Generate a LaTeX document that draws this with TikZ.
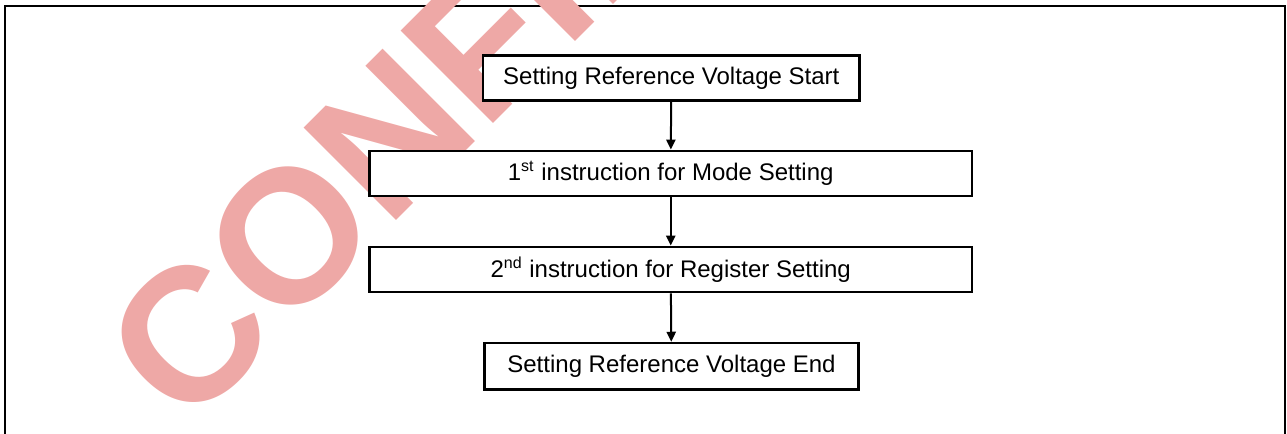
\documentclass[tikz,border=0pt]{standalone}
\usepackage{fontspec}
\setmainfont{Liberation Sans}
\usepackage{tikz}
\usetikzlibrary{arrows.meta}
\definecolor{stamp}{RGB}{238,168,166}

\begin{document}
\begin{tikzpicture}[x=0.5pt,y=-0.5pt,
    box/.style={draw,line width=1.35pt,fill=white,inner sep=0pt,minimum height=22.6pt,font=\fontsize{12}{14}\selectfont},
    flow/.style={line width=1pt,-{Stealth[inset=0pt,length=5pt,width=4.6pt]}}]
    \useasboundingbox (0,0) rectangle (1287,434);
    \coordinate (bl) at (5,434);
    \coordinate (tl) at (5,6);
    \coordinate (tr) at (1285,6);
    \coordinate (br) at (1285,434);
    \draw[line width=1.1pt](bl)--(tl)--(tr)--(br);
    \begin{scope}
      \clip (0,0) rectangle (1287,434);
      \node[rotate=45,text=stamp,inner sep=0pt,font=\fontsize{95}{95}\selectfont\bfseries] (mark) at (640,-115) {CONFIDENTIAL};
    \end{scope}
    \node[box,minimum width=188.3pt] (start) at (671.3,77.9) {Setting Reference Voltage Start};
    \node[box,minimum width=301.4pt] (mode) at (670.7,173.5) {1\textsuperscript{st} instruction for Mode Setting};
    \node[box,minimum width=301.4pt] (reg) at (670.7,269.5) {2\textsuperscript{nd} instruction for Register Setting};
    \node[box,minimum width=187.2pt,minimum height=23.1pt] (finish) at (671.5,366.2) {Setting Reference Voltage End};
    \draw[flow](start)--(mode);
    \draw[flow](mode)--(reg);
    \draw[flow](reg)--(finish);
  \end{tikzpicture}
\end{document}
